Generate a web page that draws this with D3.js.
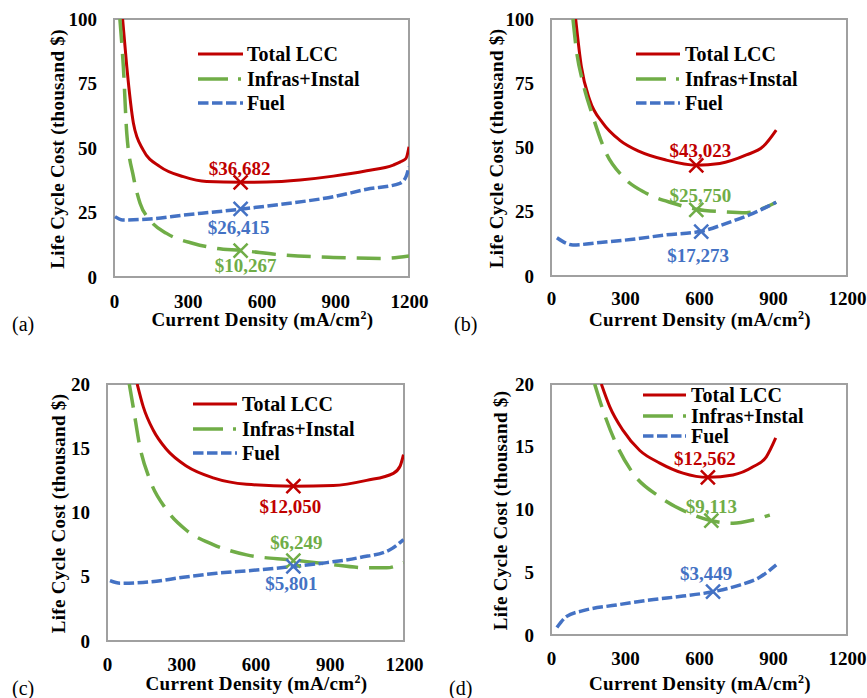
<!DOCTYPE html>
<html>
<head>
<meta charset="utf-8">
<script src="https://cdn.jsdelivr.net/npm/d3@7"></script>
<style>
  html, body { margin: 0; padding: 0; background: #fff; }
  svg { display: block; }
  text { font-family: "Liberation Serif", "Times New Roman", serif; }
</style>
</head>
<body>
<svg id="chart" width="867" height="698"></svg>
<script>
// ---------------- DATA ----------------
const xTicks = [0, 300, 600, 900, 1200];
const yTicksAB = [0, 25, 50, 75, 100];
const yTicksCD = [0, 5, 10, 15, 20];
const seriesNames = ["Total LCC", "Infras+Instal", "Fuel"];
const panelLetters = ["(a)", "(b)", "(c)", "(d)"];
const xTitle = "Current  Density (mA/cm";
const yTitle = "Life Cycle Cost (thousand  $)";

// [current density, cost (thousand $)]
const aTotal = [[35,100],[52,81.5],[79,59.6],[119,49.2],[187,42.8],[282,38.9],[377,37.0],[515,36.7],[621,36.8],[757,37.6],[892,39.1],[1028,41.2],[1136,43.4],[1165,44.6],[1188,46.0],[1200,50.5]];
const aInfra = [[24,100],[38,81.5],[52,55.7],[79,38.9],[106,28.6],[146,22.1],[214,16.9],[323,13.0],[418,11.1],[515,10.3],[689,8.5],[892,7.6],[1096,7.2],[1200,8.1]];
const aFuel  = [[4,23.4],[35,22.1],[146,22.5],[282,24.0],[418,25.3],[515,26.3],[689,28.3],[892,31.1],[1028,34.0],[1163,36.3],[1188,38.9],[1200,42.8]];

const bTotal = [[100,100],[123,81.5],[157,68.5],[211,59.4],[278,52.9],[360,48.4],[467,45.1],[589,43.1],[684,43.8],[792,47.1],[859,50.3],[913,56.8]];
const bInfra = [[89,100],[103,87.9],[130,75],[170,62],[224,47.7],[292,38.6],[386,32.2],[495,28.3],[589,26.0],[697,25.0],[792,24.6],[859,26.3],[913,28.7]];
const bFuel  = [[24,14.9],[89,12.1],[197,13.0],[332,14.3],[467,16.0],[609,17.4],[711,20.5],[819,24.4],[913,28.7]];

const cTotal = [[122,20],[147,18.2],[187,16.4],[241,14.9],[322,13.6],[429,12.7],[564,12.2],[753,12.05],[914,12.1],[1049,12.5],[1157,13.05],[1184,13.6],[1198,14.5]];
const cInfra = [[90,20],[106,18.2],[133,15.1],[174,12.5],[241,10.2],[322,8.6],[429,7.5],[564,6.7],[753,6.3],[888,6.0],[1049,5.7],[1130,5.7],[1198,6.1]];
const cFuel  = [[12,4.7],[53,4.5],[174,4.6],[308,4.96],[443,5.27],[591,5.5],[753,5.8],[888,6.1],[1022,6.5],[1143,7.1],[1198,7.9]];

const dTotal = [[204,20],[238,18.2],[292,16.3],[360,14.7],[441,13.7],[535,12.9],[636,12.56],[738,12.75],[819,13.4],[873,14.2],[911,15.7]];
const dInfra = [[177,20],[211,17.9],[258,15.5],[332,12.9],[441,11.0],[549,9.8],[650,9.1],[738,8.9],[819,9.16],[887,9.56]];
const dFuel  = [[24,0.6],[62,1.46],[130,1.94],[265,2.39],[400,2.79],[535,3.1],[657,3.45],[765,3.98],[846,4.6],[913,5.58]];

// minimum points: [x, value in thousand $, value in $]
const aMins = [[515,36.682,36682],[515,10.267,10267],[515,26.415,26415]];
const bMins = [[589,43.023,43023],[589,25.750,25750],[609,17.273,17273]];
const cMins = [[753,12.050,12050],[753,6.249,6249],[753,5.801,5801]];
const dMins = [[636,12.562,12562],[650,9.113,9113],[657,3.449,3449]];

// ---------------- STYLE / LAYOUT ----------------
const colors = ["#C00000", "#70AD47", "#4472C4"];
const widths = [3, 3.5, 3.5];
const dashes = [null, "24,11", "10.5,3.5"];
const legDashes = [null, "30,10,3,10", "10.5,3.5"];

const layout = [
  { box:[114,19,409,277], yMax:100, yTicks:yTicksAB, data:[aTotal,aInfra,aFuel], mins:aMins,
    labOff:[[-1,-14],[5,15],[-2,19]], leg:{x1:198,x2:243,tx:247,ys:[54,79,103]},
    yTitleX:57, xTitleY:319, tickY:301, letter:[12,331] },
  { box:[551,19,847,276], yMax:100, yTicks:yTicksAB, data:[bTotal,bInfra,bFuel], mins:bMins,
    labOff:[[4,-15],[4,-14],[-3,24]], leg:{x1:636,x2:680,tx:685,ys:[54,79,103]},
    yTitleX:496, xTitleY:319, tickY:298, letter:[454,331] },
  { box:[107,384,404,641], yMax:20, yTicks:yTicksCD, data:[cTotal,cInfra,cFuel], mins:cMins,
    labOff:[[-3,20],[3,-18],[-2,17]], leg:{x1:193,x2:237,tx:242,ys:[404,429,453]},
    yTitleX:58, xTitleY:683, tickY:664, letter:[12,695] },
  { box:[551,384,847,635], yMax:20, yTicks:yTicksCD, data:[dTotal,dInfra,dFuel], mins:dMins,
    labOff:[[-3,-19],[0,-14],[-7,-18]], leg:{x1:643,x2:686,tx:691,ys:[395,416,436]},
    yTitleX:500, xTitleY:683, tickY:658, letter:[449,695] }
];

const svg = d3.select("#chart");
const fmt = d3.format("$,");
const FS = 19;

layout.forEach((p, i) => {
  const [x0, y0, x1, y1] = p.box;
  const x = d3.scaleLinear().domain([0, 1200]).range([x0, x1]);
  const y = d3.scaleLinear().domain([0, p.yMax]).range([y1, y0]);
  const g = svg.append("g");

  // clip
  const clipId = "clip" + i;
  svg.append("clipPath").attr("id", clipId)
    .append("rect").attr("x", x0).attr("y", y0).attr("width", x1 - x0).attr("height", y1 - y0);

  // box
  g.append("rect").attr("x", x0).attr("y", y0).attr("width", x1 - x0).attr("height", y1 - y0)
    .attr("fill", "#fff").attr("stroke", "#A0A0A0").attr("stroke-width", 2);

  // tick labels
  const xAxis = d3.axisBottom(x).tickValues(xTicks).tickFormat(d3.format("d")).tickSize(0).tickPadding(0);
  const gx = g.append("g").attr("transform", `translate(0,${p.tickY})`).call(xAxis);
  gx.select(".domain").remove();
  gx.selectAll("text").attr("dy", "0.35em").attr("y", 0)
    .attr("font-size", FS).attr("font-weight", "bold").attr("fill", "#000")
    .attr("font-family", "Liberation Serif");

  const yAxis = d3.axisLeft(y).tickValues(p.yTicks).tickFormat(d3.format("d")).tickSize(0).tickPadding(17);
  const gy = g.append("g").attr("transform", `translate(${x0},0)`).call(yAxis);
  gy.select(".domain").remove();
  gy.selectAll("text").attr("font-size", FS).attr("font-weight", "bold").attr("fill", "#000")
    .attr("font-family", "Liberation Serif");

  // axis titles
  const xt = g.append("text").attr("x", (x0 + x1) / 2 + 1).attr("y", p.xTitleY).attr("dy", "0.35em")
    .attr("text-anchor", "middle").attr("font-size", FS).attr("font-weight", "bold")
    .attr("letter-spacing", 0.3);
  xt.append("tspan").text(xTitle);
  xt.append("tspan").text("2").attr("font-size", 12).attr("dy", "-0.55em");
  xt.append("tspan").text(")").attr("dy", "0.35em");

  g.append("text").attr("transform", `translate(${p.yTitleX},${(y0 + y1) / 2 + 1}) rotate(-90)`)
    .attr("dy", "0.35em").attr("text-anchor", "middle").attr("letter-spacing", 0.3)
    .attr("font-size", FS).attr("font-weight", "bold").text(yTitle);

  // panel letter
  g.append("text").attr("x", p.letter[0]).attr("y", p.letter[1])
    .attr("font-size", 20).text(panelLetters[i]);

  // series lines
  const line = d3.line().x(d => x(d[0])).y(d => y(d[1])).curve(d3.curveMonotoneX);
  const lg = g.append("g").attr("clip-path", `url(#${clipId})`);
  p.data.forEach((s, k) => {
    lg.append("path").datum(s).attr("d", line)
      .attr("fill", "none").attr("stroke", colors[k]).attr("stroke-width", widths[k])
      .attr("stroke-dasharray", dashes[k]).attr("stroke-linecap", "butt").attr("stroke-linejoin", "round");
  });

  // markers + labels
  p.mins.forEach((m, k) => {
    const cx = x(m[0]), cy = y(m[1]), r = 7;
    g.append("path")
      .attr("d", `M${cx - r},${cy - r}L${cx + r},${cy + r}M${cx - r},${cy + r}L${cx + r},${cy - r}`)
      .attr("stroke", colors[k]).attr("stroke-width", 2.5).attr("fill", "none");
    g.append("text").attr("x", cx + p.labOff[k][0]).attr("y", cy + p.labOff[k][1]).attr("dy", "0.35em")
      .attr("text-anchor", "middle").attr("font-size", FS).attr("font-weight", "bold")
      .attr("fill", colors[k]).text(fmt(m[2]));
  });

  // legend
  seriesNames.forEach((nm, k) => {
    const ly = p.leg.ys[k];
    g.append("line").attr("x1", p.leg.x1).attr("x2", p.leg.x2).attr("y1", ly).attr("y2", ly)
      .attr("stroke", colors[k]).attr("stroke-width", widths[k]).attr("stroke-dasharray", legDashes[k]);
    g.append("text").attr("x", p.leg.tx).attr("y", ly).attr("dy", "0.35em")
      .attr("font-size", FS + 1).attr("font-weight", "bold").text(nm);
  });
});
</script>
</body>
</html>
